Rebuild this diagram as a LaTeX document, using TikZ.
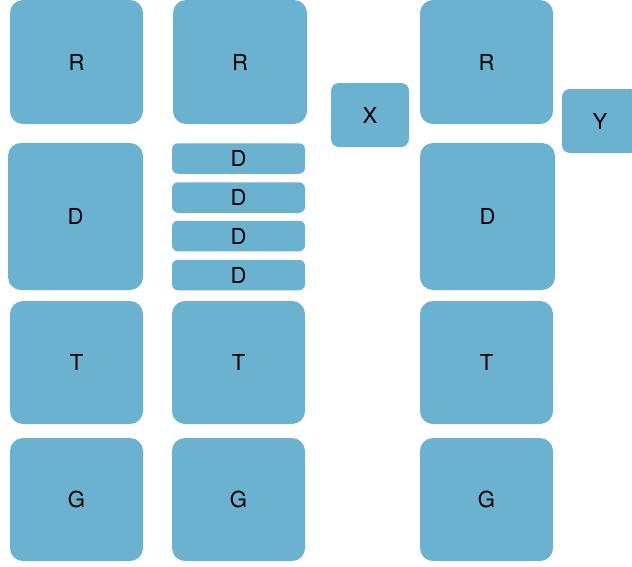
\documentclass[tikz,border=0pt]{standalone}
\usepackage{fontspec}
\setmainfont{TeX Gyre Heros}
\usetikzlibrary{positioning}
\definecolor{blockfill}{HTML}{6BB1D0}
\definecolor{blocktext}{HTML}{000000}

\begin{document}
\begin{tikzpicture}[x=1pt, y=-1pt,
  block/.style={fill=blockfill, draw=none, rounded corners=13pt,
                text=blocktext, inner sep=0pt, outer sep=0pt,
                font=\fontsize{22}{26}\selectfont},
  bigblock/.style={block, minimum width=133pt, minimum height=123pt},
  thinblock/.style={block, rounded corners=6pt,
                    minimum width=133pt, minimum height=30.5pt}]

%%=== PLAN (pt, y downwards) =========================================
%%  Canvas 632 x 566
%%  Columns x-centres: C1=76.5  C2=239  C3=487
%%  Rows y-centres:    R=62  D=216.5  T=362.5  G=499.5
%%  Side blocks: X at (370,115), Y at (600,121), Y cut by right edge
%%====================================================================
\useasboundingbox (0,0) rectangle (632,566);

%% --- Column 1 -------------------------------------------------------
\node[bigblock, minimum height=124pt] (r1) at (76.5,62)    {R};
\node[bigblock, minimum width=135pt, minimum height=147pt]
                                      (d1) at (75.5,216.5) {D};
\node[bigblock]                       (t1) at (76.5,362.5) {T};
\node[bigblock]                       (g1) at (76.5,499.5) {G};

%% --- Column 2 (split D) ---------------------------------------------
\node[bigblock, minimum width=134pt, minimum height=124pt]
                                      (r2) at (240,62)     {R};
\node[thinblock] (d2a) at (238.5,158.5) {D};
\node[thinblock] (d2b) at (238.5,197.5) {D};
\node[thinblock] (d2c) at (238.5,236)   {D};
\node[thinblock] (d2d) at (238.5,275)   {D};
\node[bigblock]                       (t2) at (238.5,362.5) {T};
\node[bigblock]                       (g2) at (238.5,499.5) {G};

%% --- X block --------------------------------------------------------
\node[block, rounded corners=8pt, minimum width=78pt, minimum height=64pt]
  (x) at (370,115) {X};

%% --- Column 3 -------------------------------------------------------
\node[bigblock, minimum height=124pt] (r3) at (486.5,62)    {R};
\node[bigblock, minimum width=135pt, minimum height=147pt]
                                      (d3) at (487.5,216.5) {D};
\node[bigblock]                       (t3) at (486.5,362.5) {T};
\node[bigblock]                       (g3) at (486.5,499.5) {G};

%% --- Y block (runs past right edge) ---------------------------------
\node[block, rounded corners=8pt, minimum width=76pt, minimum height=64pt]
  (y) at (600,121) {Y};

\end{tikzpicture}
\end{document}
